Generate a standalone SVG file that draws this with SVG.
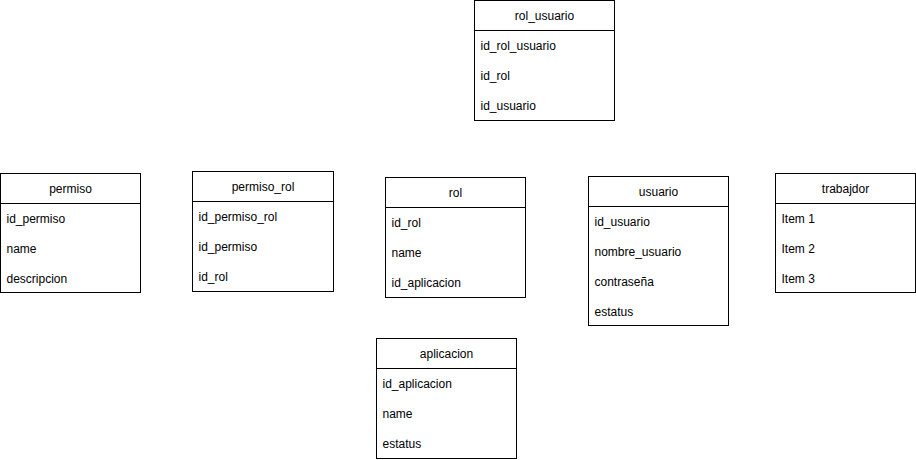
<svg xmlns="http://www.w3.org/2000/svg" width="916" height="460" viewBox="0 0 916 460">
<style>
.box{fill:#fff;stroke:#000;stroke-width:1}
.hd{font-family:"Liberation Sans",Arial,sans-serif;font-size:12px;fill:#000;text-anchor:middle}
.it{font-family:"Liberation Sans",Arial,sans-serif;font-size:12px;fill:#000}
</style>
<rect width="916" height="460" fill="#fff"/>
<g id="rol_usuario" transform="translate(474.5,0.5)">
<rect class="box" width="140" height="120"/><line class="box" x1="0" y1="30" x2="140" y2="30"/>
<text class="hd" x="70" y="19">rol_usuario</text>
<text class="it" x="6" y="49">id_rol_usuario</text>
<text class="it" x="6" y="79">id_rol</text>
<text class="it" x="6" y="109">id_usuario</text>
</g>
<g id="permiso" transform="translate(0.5,173.5)">
<rect class="box" width="140" height="119"/><line class="box" x1="0" y1="30" x2="140" y2="30"/>
<text class="hd" x="70" y="19">permiso</text>
<text class="it" x="6" y="49">id_permiso</text>
<text class="it" x="6" y="79">name</text>
<text class="it" x="6" y="109">descripcion</text>
</g>
<g id="permiso_rol" transform="translate(192.5,171.5)">
<rect class="box" width="141" height="120"/><line class="box" x1="0" y1="30" x2="141" y2="30"/>
<text class="hd" x="70.5" y="19">permiso_rol</text>
<text class="it" x="6" y="49">id_permiso_rol</text>
<text class="it" x="6" y="79">id_permiso</text>
<text class="it" x="6" y="109">id_rol</text>
</g>
<g id="rol" transform="translate(385.5,177.5)">
<rect class="box" width="140" height="120"/><line class="box" x1="0" y1="30" x2="140" y2="30"/>
<text class="hd" x="70" y="19">rol</text>
<text class="it" x="6" y="49">id_rol</text>
<text class="it" x="6" y="79">name</text>
<text class="it" x="6" y="109">id_aplicacion</text>
</g>
<g id="usuario" transform="translate(588.5,176.5)">
<rect class="box" width="140" height="149"/><line class="box" x1="0" y1="30" x2="140" y2="30"/>
<text class="hd" x="70" y="19">usuario</text>
<text class="it" x="6" y="49">id_usuario</text>
<text class="it" x="6" y="79">nombre_usuario</text>
<text class="it" x="6" y="109">contraseña</text>
<text class="it" x="6" y="139">estatus</text>
</g>
<g id="trabajdor" transform="translate(775.5,173.5)">
<rect class="box" width="140" height="119"/><line class="box" x1="0" y1="30" x2="140" y2="30"/>
<text class="hd" x="70" y="19">trabajdor</text>
<text class="it" x="6" y="49">Item 1</text>
<text class="it" x="6" y="79">Item 2</text>
<text class="it" x="6" y="109">Item 3</text>
</g>
<g id="aplicacion" transform="translate(376.5,338.5)">
<rect class="box" width="140" height="120"/><line class="box" x1="0" y1="30" x2="140" y2="30"/>
<text class="hd" x="70" y="19">aplicacion</text>
<text class="it" x="6" y="49">id_aplicacion</text>
<text class="it" x="6" y="79">name</text>
<text class="it" x="6" y="109">estatus</text>
</g>
<g id="connectors"></g>
</svg>
